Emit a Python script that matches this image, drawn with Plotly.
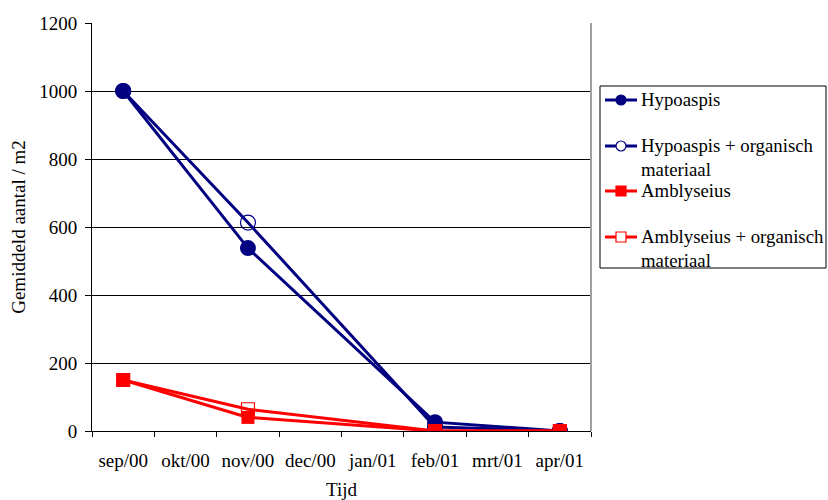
import plotly.graph_objects as go

months = ["sep/00", "okt/00", "nov/00", "dec/00", "jan/01", "feb/01", "mrt/01", "apr/01"]
sample_months = ["sep/00", "nov/00", "feb/01", "apr/01"]

hypoaspis = [1000, 538, 26, 0]
hypoaspis_org = [1000, 613, 12, 0]
amblyseius = [150, 40, 0, 0]
amblyseius_org = [150, 64, 0, 0]

names = ["Hypoaspis", "Hypoaspis + organisch<br>materiaal",
         "Amblyseius", "Amblyseius + organisch<br>materiaal"]

NAVY = "#000080"
RED = "#FF0000"
FONT = "Liberation Serif"
FS = 19
LEG_FS = 18.8

# plot-area geometry (pixels)
W, H = 828, 500
L, R, T, B = 92, 591, 23, 431


def px_x(px):
    return (px - L) / (R - L)


def px_y(py):
    return (B - py) / (B - T)


series = [
    (hypoaspis, names[0], NAVY, "circle", 16, True),
    (hypoaspis_org, names[1], NAVY, "circle", 15, False),
    (amblyseius, names[2], RED, "square", 13, True),
    (amblyseius_org, names[3], RED, "square", 13, False),
]

fig = go.Figure()
for vals, nm, col, sym, size, filled in series:
    fig.add_trace(go.Scatter(
        x=sample_months, y=vals, name=nm.replace("<br>", " "), mode="lines+markers",
        line=dict(color=col, width=3),
        marker=dict(symbol=sym if filled else sym + "-open", size=size, color=col,
                    line=dict(width=0 if filled else 1.2, color=col)),
        showlegend=False))

shapes = []
annotations = []
# right border of plot area (grey)
shapes.append(dict(type="line", xref="paper", yref="paper", x0=1, x1=1, y0=0, y1=1,
                   line=dict(color="#A0A0A0", width=2)))

# legend box
LG_L, LG_R, LG_T, LG_B = 600, 826, 86, 268
shapes.append(dict(type="rect", xref="paper", yref="paper",
                   x0=px_x(LG_L), x1=px_x(LG_R), y0=px_y(LG_B), y1=px_y(LG_T),
                   line=dict(color="black", width=1), fillcolor="white", layer="above"))
row_y = [100, 146, 191, 237]
for (vals, nm, col, sym, size, filled), ry in zip(series, row_y):
    shapes.append(dict(type="line", xref="paper", yref="paper",
                       x0=px_x(605), x1=px_x(637), y0=px_y(ry), y1=px_y(ry),
                       line=dict(color=col, width=3), layer="above"))
    r = 5
    shapes.append(dict(type="circle" if sym == "circle" else "rect", xref="paper", yref="paper",
                       x0=px_x(621 - r), x1=px_x(621 + r), y0=px_y(ry + r), y1=px_y(ry - r),
                       line=dict(color=col, width=1.2),
                       fillcolor=col if filled else "white", layer="above"))
    annotations.append(dict(xref="paper", yref="paper", x=px_x(639), y=px_y(ry - 13),
                            xanchor="left", yanchor="top", align="left", showarrow=False,
                            text=nm, font=dict(family=FONT, size=LEG_FS, color="black")))

fig.update_layout(
    width=W, height=H,
    margin=dict(l=L, r=W - R, t=T, b=H - B, autoexpand=False),
    paper_bgcolor="white", plot_bgcolor="white",
    font=dict(family=FONT, size=FS, color="black"),
    showlegend=False,
    shapes=shapes, annotations=annotations,
    xaxis=dict(type="category", categoryorder="array", categoryarray=months,
               range=[-0.5, 7.5], showline=True, linecolor="black", linewidth=1,
               ticks="outside", tickson="boundaries", ticklen=5, tickcolor="black",
               ticklabelstandoff=12, tickangle=0, automargin=False,
               showgrid=False, zeroline=False,
               title=dict(text="Tijd", font=dict(family=FONT, size=FS), standoff=13)),
    yaxis=dict(range=[0, 1200], dtick=200, showline=True, linecolor="black", linewidth=1,
               ticks="outside", ticklen=6, tickcolor="black",
               ticklabelstandoff=4, automargin=False,
               showgrid=True, gridcolor="black", gridwidth=1, zeroline=False,
               title=dict(text="Gemiddeld aantal / m2", font=dict(family=FONT, size=FS), standoff=8)),
)

fig.write_html("out.html")
